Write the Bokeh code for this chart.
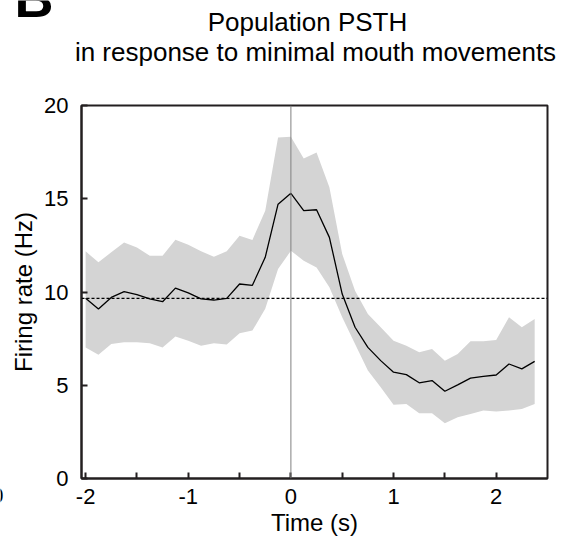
from bokeh.plotting import figure
from bokeh.models import (Range1d, FixedTicker, Label, Span, ColumnDataSource,
                          CustomJSTickFormatter)
from bokeh.layouts import column, row
from bokeh.embed import file_html
from bokeh.resources import INLINE

# ---- data ----
time_s = [-2.0, -1.875, -1.75, -1.625, -1.5, -1.375, -1.25, -1.125, -1.0, -0.875,
          -0.75, -0.625, -0.5, -0.375, -0.25, -0.125, 0.0, 0.125, 0.25, 0.375,
          0.5, 0.625, 0.75, 0.875, 1.0, 1.125, 1.25, 1.375, 1.5, 1.625,
          1.75, 1.875, 2.0, 2.125, 2.25, 2.375]
mean_rate = [9.66, 9.09, 9.71, 10.02, 9.86, 9.63, 9.48, 10.21, 9.95, 9.63,
             9.57, 9.66, 10.43, 10.36, 11.86, 14.71, 15.29, 14.36, 14.41, 12.93,
             9.89, 8.11, 7.03, 6.32, 5.70, 5.57, 5.13, 5.25, 4.68, 5.02,
             5.38, 5.48, 5.55, 6.14, 5.88, 6.28]
upper_rate = [12.18, 11.59, 12.13, 12.66, 12.39, 11.95, 11.95, 12.80, 12.54, 12.18,
              11.89, 12.18, 13.02, 12.79, 14.36, 18.29, 18.32, 17.16, 17.48, 15.61,
              12.04, 10.07, 8.82, 8.11, 7.39, 7.12, 6.77, 6.95, 6.32, 6.68,
              7.36, 7.36, 7.43, 8.64, 8.11, 8.55]
lower_rate = [7.03, 6.64, 7.21, 7.30, 7.30, 7.25, 7.03, 7.61, 7.39, 7.12,
              7.25, 7.18, 7.79, 7.93, 9.10, 11.23, 12.21, 11.68, 11.32, 10.25,
              8.64, 7.21, 5.79, 4.89, 3.96, 4.00, 3.50, 3.50, 2.96, 3.29,
              3.46, 3.64, 3.59, 3.64, 3.73, 4.00]
baseline_rate = 9.66
x_ticks = [-2, -1, 0, 1, 2]
x_minor_ticks = [-1.5, -0.5, 0.5, 1.5]
y_ticks = [0, 5, 10, 15, 20]
title_line1 = "Population PSTH"
title_line2 = "in response to minimal mouth movements"
panel_letter = "B"
neighbour_tick = "0"

FONT = "Liberation Sans"
AXC = "#231f20"
HEADER_H = 88


def blank(x0, x1, height):
    f = figure(width=x1 - x0, height=height, output_backend="svg", toolbar_location=None,
               x_range=Range1d(x0, x1), y_range=Range1d(height, 0),
               min_border=0, min_border_left=0, min_border_right=0,
               min_border_top=0, min_border_bottom=0)
    f.title.visible = False
    f.axis.visible = False
    f.grid.visible = False
    f.outline_line_color = None
    f.background_fill_color = "white"
    f.border_fill_color = "white"
    return f


def text_label(x, y, txt, size, align, style="normal"):
    return Label(x=x, y=y, text=txt, text_font=FONT, text_font_size=size,
                 text_font_style=style, text_align=align, text_baseline="middle",
                 text_color="black")


# ---- header (global pixel coordinates, y from top) ----
header = blank(4, 566, HEADER_H)
header.add_layout(text_label(14, -3, panel_letter, "54px", "left", "bold"))
header.add_layout(text_label(307, 21.5, title_line1, "26px", "center"))
header.add_layout(text_label(315, 51.5, title_line2, "26px", "center"))

# ---- thin strip on the left: edge of the neighbouring panel's tick label ----
strip = blank(0, 4, 547)
strip.add_layout(text_label(3, 495, neighbour_tick, "22px", "right"))

# ---- main plot ----
src = ColumnDataSource(dict(t=time_s, m=mean_rate, up=upper_rate, lo=lower_rate))

p = figure(width=562, height=547 - HEADER_H, output_backend="svg", toolbar_location=None,
           x_range=Range1d(-2.04, 2.5), y_range=Range1d(0, 20),
           min_border_left=77, min_border_right=19, min_border_top=105 - HEADER_H,
           min_border_bottom=69)
p.title.visible = False
p.grid.visible = False
p.background_fill_color = "white"
p.border_fill_color = "white"
p.outline_line_color = AXC
p.outline_line_width = 2

p.varea(x="t", y1="lo", y2="up", source=src, fill_color="#d4d4d4")
p.add_layout(Span(location=0, dimension="height", line_color="#808080", line_width=1))
p.add_layout(Span(location=baseline_rate, dimension="width", line_color="black",
                  line_width=1.3, line_dash="3 2"))
p.line(x="t", y="m", source=src, line_color="black", line_width=1.3)

for ax in (p.xaxis[0], p.yaxis[0]):
    ax.axis_line_color = AXC
    ax.axis_line_width = 2
    ax.major_tick_line_color = AXC
    ax.major_tick_line_width = 2
    ax.major_tick_in = 6
    ax.major_tick_out = 0
    ax.minor_tick_line_color = AXC
    ax.minor_tick_line_width = 2
    ax.minor_tick_in = 6
    ax.minor_tick_out = 0
    ax.major_label_text_font = FONT
    ax.major_label_text_font_size = "22px"
    ax.major_label_text_color = "black"
    ax.axis_label_text_font = FONT
    ax.axis_label_text_font_size = "24px"
    ax.axis_label_text_font_style = "normal"
    ax.axis_label_text_color = "black"
    ax.formatter = CustomJSTickFormatter(code="return tick.toFixed(0);")

p.xaxis.ticker = FixedTicker(ticks=x_ticks, minor_ticks=x_minor_ticks)
p.yaxis.ticker = FixedTicker(ticks=y_ticks, minor_ticks=[])
p.xaxis.major_label_standoff = 10
p.yaxis.major_label_standoff = 13
p.xaxis.axis_label = "Time (s)"
p.yaxis.axis_label = "Firing rate (Hz)"
p.xaxis.axis_label_standoff = 2
p.yaxis.axis_label_standoff = 4

layout = row(strip, column(header, row(p, spacing=0), spacing=0), spacing=0)
open("out.html", "w").write(file_html(layout, INLINE))
